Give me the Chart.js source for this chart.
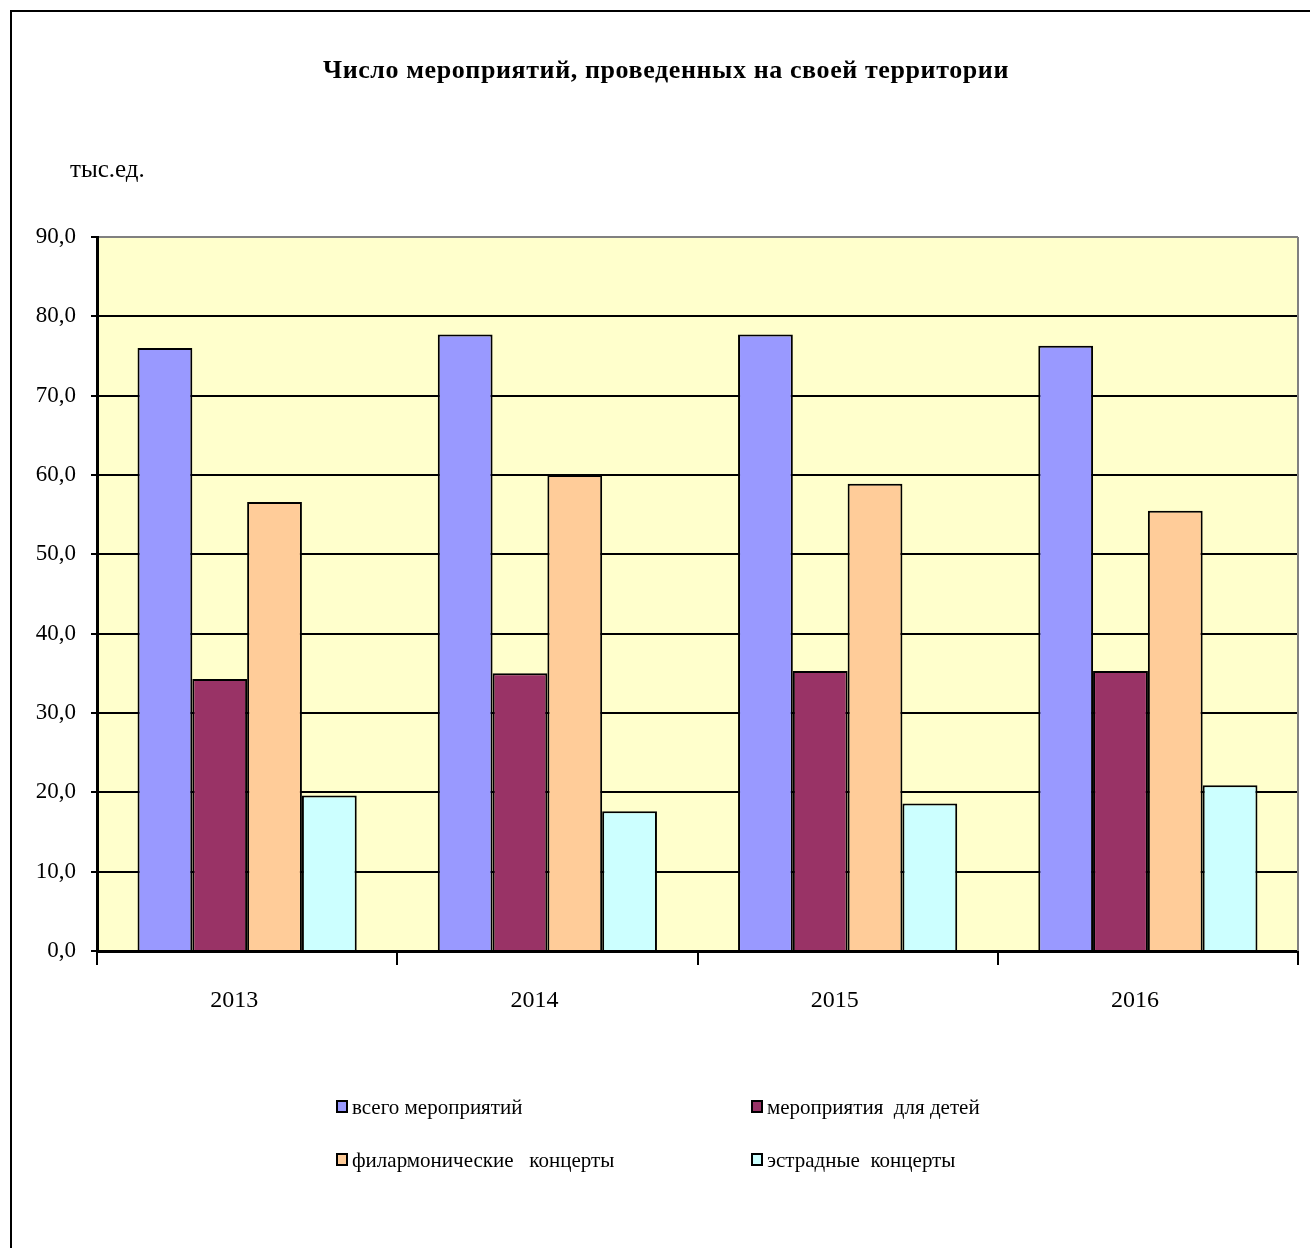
<!DOCTYPE html>
<html>
<head>
<meta charset="utf-8">
<script src="https://cdn.jsdelivr.net/npm/chart.js@4/dist/chart.umd.min.js"></script>
<style>
  html, body { margin: 0; padding: 0; background: #fff; }
  body { width: 1310px; height: 1248px; position: relative; overflow: hidden; font-family: "Liberation Serif", "Times New Roman", serif; }
  #frame { position: absolute; left: 10px; top: 10px; width: 1310px; height: 1260px; border: 2px solid #000; box-sizing: border-box; }
  #wrap { position: absolute; left: 0; top: 0; width: 1310px; height: 1248px; }
  .txt { position: absolute; white-space: pre; color: #000; }
  #title { left: 0; width: 1332px; text-align: center; top: 55px; font-size: 26px; font-weight: bold; letter-spacing: 0.6px; }
  #unit { left: 70px; top: 155px; font-size: 25px; }
  .leg { position: absolute; font-size: 21px; white-space: pre; line-height: 22px; }
  .leg i { display: inline-block; width: 8px; height: 9px; border: 2px solid #000; margin-right: 4px; vertical-align: 1px; }
</style>
</head>
<body>
<div id="frame"></div>
<div id="wrap"><canvas id="myChart" width="1310" height="1248"></canvas></div>
<div class="txt" id="title">Число мероприятий, проведенных на своей территории</div>
<div class="txt" id="unit">тыс.ед.</div>
<div id="legend"></div>
<script>
// data
let years = ["2013", "2014", "2015", "2016"];
let seriesNames = ["всего мероприятий", "мероприятия  для детей", "филармонические   концерты", "эстрадные  концерты"];
let total = [76.0, 77.7, 77.7, 76.3];
let forKids = [34.3, 35.0, 35.3, 35.3];
let philharmonic = [56.6, 60.0, 58.9, 55.5];
let estrada = [19.6, 17.6, 18.6, 20.9];
let colors = ["#9999FF", "#993366", "#FFCC99", "#CCFFFF"];

let ctx1 = document.getElementById('myChart').getContext('2d');

const plotBg = {
    id: 'plotBg',
    beforeDraw(chart) {
        const a = chart.chartArea;
        const c = chart.ctx;
        c.save();
        c.fillStyle = '#FFFFCC';
        c.fillRect(a.left, a.top, a.right - a.left, a.bottom - a.top);
        c.restore();
    },
    afterDraw(chart) {
        const a = chart.chartArea;
        const c = chart.ctx;
        c.save();
        c.strokeStyle = '#808080';
        c.lineWidth = 2;
        c.beginPath();
        c.moveTo(a.right, a.top);
        c.lineTo(a.right, a.bottom);
        c.stroke();
        c.restore();
    }
};

function makeSet(label, data, color) {
    return {
        label: label,
        data: data,
        backgroundColor: color,
        borderColor: '#000',
        borderWidth: 2,
        categoryPercentage: 0.73,
        barPercentage: 1.0
    };
}

let chart1 = new Chart(ctx1, {
    type: 'bar',
    data: {
        labels: years,
        datasets: [
            makeSet(seriesNames[0], total, colors[0]),
            makeSet(seriesNames[1], forKids, colors[1]),
            makeSet(seriesNames[2], philharmonic, colors[2]),
            makeSet(seriesNames[3], estrada, colors[3])
        ]
    },
    options: {
        responsive: false,
        animation: false,
        devicePixelRatio: 1,
        layout: { padding: { left: 0, top: 237, right: 12, bottom: 217 } },
        plugins: {
            legend: { display: false },
            tooltip: { enabled: false }
        },
        scales: {
            x: {
                offset: true,
                afterFit: (s) => { s.height = 80; },
                grid: { drawOnChartArea: false, tickLength: 14, tickColor: '#000', lineWidth: 2 },
                border: { color: '#000', width: 3 },
                ticks: { color: '#000', padding: 21, labelOffset: -13, font: { family: 'Liberation Serif', size: 24 } }
            },
            y: {
                min: 0,
                max: 90,
                afterFit: (s) => { s.width = 97; },
                grid: {
                    color: (c) => c.tick && c.tick.value === 90 ? '#808080' : '#000',
                    lineWidth: 2,
                    tickLength: 6,
                    tickColor: '#000'
                },
                border: { color: '#000', width: 3 },
                ticks: {
                    stepSize: 10,
                    color: '#000',
                    padding: 15,
                    font: { family: 'Liberation Serif', size: 23 },
                    callback: (v) => v.toFixed(1).replace('.', ',')
                }
            }
        }
    },
    plugins: [plotBg]
});

// legend, two columns
let legPos = [[336, 1096], [751, 1096], [336, 1149], [751, 1149]];
let leg = document.getElementById('legend');
seriesNames.forEach((name, i) => {
    let d = document.createElement('div');
    d.className = 'leg';
    d.style.left = legPos[i][0] + 'px';
    d.style.top = legPos[i][1] + 'px';
    d.innerHTML = `<i style="background:${colors[i]}"></i>${name}`;
    leg.appendChild(d);
});
</script>
</body>
</html>
